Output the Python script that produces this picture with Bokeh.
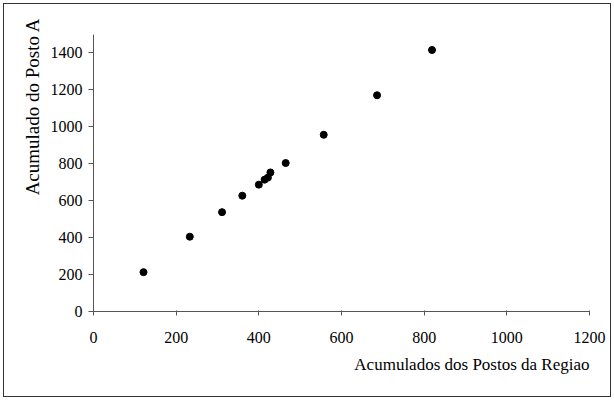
from bokeh.plotting import figure
from bokeh.models import Range1d, Title, FixedTicker
from bokeh.embed import file_html
from bokeh.resources import INLINE

# Data
regiao = [121, 233, 311, 360, 400, 414, 422, 428, 465, 557, 686, 819]
posto_a = [213, 405, 538, 627, 687, 714, 725, 753, 804, 957, 1171, 1416]
x_ticks = [0, 200, 400, 600, 800, 1000, 1200]
y_ticks = [0, 200, 400, 600, 800, 1000, 1200, 1400]
x_title = "Acumulados dos Postos da Regiao"
y_title = "Acumulado do Posto A"

FONT = "Liberation Serif"

p = figure(width=608, height=394, output_backend="svg", toolbar_location=None,
           x_range=Range1d(0, 1200), y_range=Range1d(0, 1500),
           min_border_left=89, min_border_right=23, min_border_top=30, min_border_bottom=87,
           styles={"margin": "3px 0 0 3px", "border": "1px solid #333333"})
p.outline_line_color = None
p.grid.visible = False
p.background_fill_color = "white"
p.border_fill_color = "white"

p.scatter(regiao, posto_a, size=7, color="black")

for ax, ticks in ((p.xaxis[0], x_ticks), (p.yaxis[0], y_ticks)):
    ax.ticker = FixedTicker(ticks=ticks)
    ax.minor_tick_line_color = None
    ax.axis_line_color = "#555555"
    ax.major_tick_line_color = "#555555"
    ax.major_label_text_font = FONT
    ax.major_label_text_font_size = "16px"
    ax.major_label_text_color = "black"
    ax.axis_label = None

p.xaxis.major_tick_in = 1
p.xaxis.major_tick_out = 4
p.xaxis.major_label_standoff = 16
p.yaxis.major_tick_in = 0
p.yaxis.major_tick_out = 5
p.yaxis.major_label_standoff = 6

p.add_layout(Title(text=x_title, align="right", text_font=FONT, text_font_size="17px",
                   text_font_style="normal", text_color="black", standoff=14), "below")
p.add_layout(Title(text=y_title, align="right", text_font=FONT, text_font_size="19px",
                   text_font_style="normal", text_color="black", standoff=9, offset=-17), "left")

open("out.html", "w").write(file_html(p, INLINE))
